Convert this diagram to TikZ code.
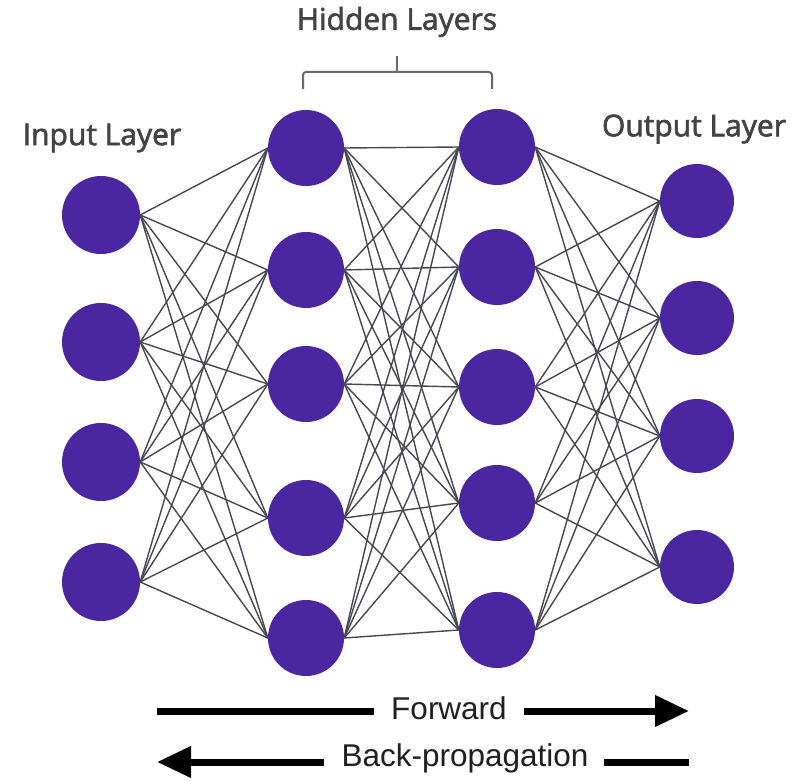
\documentclass[tikz,border=0pt]{standalone}
\usepackage{fontspec}
\setmainfont{Open Sans}
\newfontfamily\titlefont[FakeBold=2]{Open Sans}
\newfontfamily\arrowfont{Liberation Sans}
\usetikzlibrary{arrows.meta}
\definecolor{neuron}{RGB}{74,38,160}
\definecolor{wire}{RGB}{72,70,84}
\definecolor{labelgray}{RGB}{66,66,72}
\tikzset{
  neuronnode/.style={circle, fill=neuron, draw=none, inner sep=0pt},
  wireline/.style={draw=wire, line width=1.4pt},
  layerlabel/.style={font=\titlefont\fontsize{30}{34}\selectfont, text=labelgray, inner sep=0pt},
  dirlabel/.style={font=\arrowfont\fontsize{31.5}{36}\selectfont, text=black!88, inner sep=0pt},
  dirline/.style={line width=7pt, draw=black},
  bracket/.style={draw=labelgray!80, line width=2pt}
}
\begin{document}
\begin{tikzpicture}[x=1pt, y=-1pt]
  \useasboundingbox (0,0) rectangle (806,781);

  % input layer
  \foreach \k/\y in {1/215, 2/342, 3/462, 4/582}
    \node[neuronnode, minimum size=78pt] (i\k) at (101,\y) {};
  % first hidden layer
  \foreach \k/\y in {1/148, 2/270, 3/384, 4/518, 5/638}
    \node[neuronnode, minimum size=76pt] (a\k) at (306,\y) {};
  % second hidden layer
  \foreach \k/\y in {1/147, 2/267, 3/387, 4/503, 5/630}
    \node[neuronnode, minimum size=76pt] (b\k) at (497,\y) {};
  % output layer
  \foreach \k/\y in {1/201, 2/318, 3/436, 4/567}
    \node[neuronnode, minimum size=74pt] (o\k) at (697,\y) {};

  % full connections between consecutive layers
  \foreach \s in {1,...,4}
    \foreach \t in {1,...,5}
      \draw[wireline] (i\s.east) -- (a\t.west);
  \foreach \s in {1,...,5}
    \foreach \t in {1,...,5}
      \draw[wireline] (a\s.east) -- (b\t.west);
  \foreach \s in {1,...,5}
    \foreach \t in {1,...,4}
      \draw[wireline] (b\s.east) -- (o\t.west);

  % layer titles
  \node[layerlabel] (inlabel) at (102,138) {Input Layer};
  \node[layerlabel] (outlabel) at (694,129) {Output Layer};
  \node[layerlabel] (hidlabel) at (397,22) {Hidden Layers};

  % bracket over the hidden layers
  \coordinate (brL) at (303,89);
  \coordinate (brR) at (492,89);
  \coordinate (brM) at (397,72);
  \coordinate (brT) at (397,56);
  \draw[bracket, rounded corners=3pt] (brL) -- (303,72) -- (492,72) -- (brR);
  \draw[bracket] (brM) -- (brT);

  % direction of computation
  \node[dirlabel] (fwd) at (449,708) {Forward};
  \coordinate (fwdStart) at (157,711);
  \coordinate (fwdEnd) at (689,711);
  \draw[dirline] (fwdStart) -- ([xshift=-17pt]fwd.west |- fwdStart);
  \draw[dirline, -{Triangle[length=34pt, width=30pt]}] ([xshift=17pt]fwd.east |- fwdEnd) -- (fwdEnd);

  \node[dirlabel] (back) at (465,758) {Back-propagation};
  \coordinate (backTip) at (157,762);
  \coordinate (backEnd) at (689,762);
  \draw[dirline, -{Triangle[length=34pt, width=30pt]}] ([xshift=-17pt]back.west |- backTip) -- (backTip);
  \draw[dirline] ([xshift=15pt]back.east |- backEnd) -- (backEnd);
\end{tikzpicture}
\end{document}
